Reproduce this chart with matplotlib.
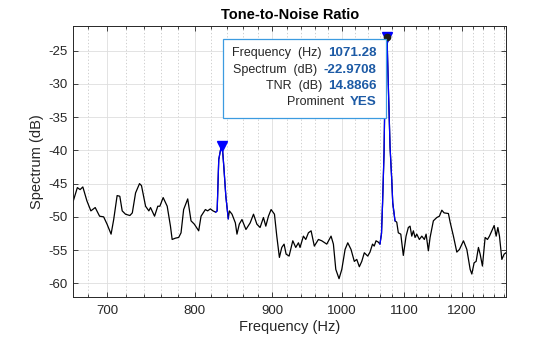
import numpy as np
import matplotlib
matplotlib.use('Agg')
import matplotlib.pyplot as plt
from matplotlib.ticker import FixedLocator, FuncFormatter, NullFormatter
from matplotlib.patches import Rectangle

plt.rcParams['font.family'] = ['Liberation Sans', 'DejaVu Sans']
plt.rcParams['axes.unicode_minus'] = False

# spectrum (Hz, dB)
freq_hz = [665.0, 669.1, 671.9, 674.7, 678.9, 683.0, 687.5, 689.3, 692.1, 696.4,
           700.0, 704.3, 707.1, 710.8, 713.7, 716.3, 719.9, 724.7, 727.4, 731.0,
           735.4, 737.6, 742.2, 745.9, 747.8, 752.4, 756.1, 758.5, 762.3, 767.0,
           770.8, 772.8, 776.7, 780.5, 783.3, 786.4, 791.3, 795.3, 799.3, 804.6,
           807.5, 812.8, 815.6, 819.0, 822.3, 825.7,
           827.5, 829.5, 831.5, 833.0, 834.5, 835.9, 838.5, 841.6,
           843.0, 846.4, 850.7, 852.8, 855.8, 859.3, 864.5, 870.1, 874.5, 879.0,
           883.3, 887.8, 891.0, 894.6, 898.2, 902.8, 906.0, 909.6, 912.9, 916.1,
           918.9, 923.1, 928.3, 932.5, 936.3, 938.6, 943.4, 946.8, 950.6, 954.5,
           959.2, 965.2, 970.1, 977.5, 983.9, 987.4, 991.0, 995.9, 1000.1, 1005.1,
           1009.2, 1014.2, 1019.3, 1023.1, 1027.1, 1030.9, 1034.9, 1040.3, 1043.9, 1047.9,
           1050.6, 1053.5, 1057.1, 1059.8,
           1062.3, 1064.0, 1066.4, 1068.0, 1071.28, 1073.4, 1076.2, 1079.0, 1080.6, 1082.7,
           1084.3, 1087.2, 1089.8, 1093.9, 1098.1, 1102.7, 1106.5, 1109.4, 1112.3, 1115.0,
           1117.9, 1120.8, 1125.2, 1129.4, 1133.8, 1136.8, 1140.7, 1143.7, 1149.4, 1155.4,
           1160.0, 1164.3, 1168.3, 1176.0, 1179.1, 1185.0, 1191.1, 1195.9, 1203.2, 1209.4,
           1215.5, 1218.6, 1222.9, 1226.6, 1230.9, 1234.1, 1238.4, 1243.5, 1247.9, 1251.7,
           1256.3, 1260.7, 1264.5, 1267.8, 1270.9, 1275.5, 1280.0, 1283.6]
spec_db = [-47.6, -45.6, -45.9, -45.5, -47.6, -49.1, -48.6, -49.1, -49.9, -50.0,
           -51.1, -52.6, -50.4, -46.8, -46.9, -49.1, -49.6, -49.8, -49.4, -46.4,
           -45.0, -45.3, -48.4, -49.1, -48.6, -49.9, -48.4, -48.4, -47.1, -48.4,
           -51.4, -53.4, -53.2, -53.1, -52.4, -48.9, -47.3, -50.6, -51.1, -52.1,
           -49.9, -48.9, -49.1, -48.8, -49.1, -49.3,
           -49.1, -41.4, -40.1, -39.3, -40.2, -42.4, -46.9, -50.3,
           -49.1, -49.6, -50.9, -52.6, -51.1, -50.4, -51.9, -50.9, -49.6, -51.1,
           -51.6, -50.1, -51.4, -49.9, -48.9, -49.6, -52.9, -56.1, -54.6, -54.1,
           -55.6, -55.9, -53.6, -54.6, -53.9, -54.6, -52.9, -53.4, -52.4, -52.1,
           -54.4, -53.4, -53.6, -54.1, -52.9, -54.1, -57.9, -59.3, -57.9, -54.9,
           -53.9, -54.9, -56.7, -56.4, -57.5, -56.7, -55.4, -55.9, -55.3, -54.1,
           -54.4, -53.6, -53.8, -54.1,
           -52.5, -48.0, -40.4, -30.4, -22.9708, -30.4, -39.5, -44.5, -47.9, -49.4,
           -50.6, -50.8, -52.4, -52.6, -55.8, -52.9, -51.6, -51.4, -52.9, -52.1,
           -53.1, -52.6, -53.4, -52.9, -53.4, -52.6, -55.1, -53.1, -50.6, -50.1,
           -49.9, -49.0, -49.4, -49.5, -50.8, -52.9, -55.3, -54.9, -53.6, -54.9,
           -57.9, -58.6, -56.9, -56.7, -54.6, -55.6, -57.4, -53.1, -53.4, -52.9,
           -52.1, -51.3, -52.9, -51.6, -52.9, -56.4, -55.6, -55.4]

tone_bands = [(825.7, 841.6), (1059.8, 1084.3)]
peak_freq = [833.0, 1071.28]
peak_db = [-39.3, -22.9708]

tip_labels = ['Frequency  (Hz)', 'Spectrum  (dB)', 'TNR  (dB)', 'Prominent']
tip_values = ['1071.28', '-22.9708', '14.8866', 'YES']

xticks = [700, 800, 900, 1000, 1100, 1200]
yticks = [-60, -55, -50, -45, -40, -35, -30, -25]

f = np.array(freq_hz)
s = np.array(spec_db)

fig = plt.figure(figsize=(5.6, 3.37), dpi=100)
ax = fig.add_axes([0.1309, 0.1178, 0.7727, 0.8059])

ax.plot(f, s, color='black', lw=0.9)
for lo, hi in tone_bands:
    m = (f >= lo) & (f <= hi)
    ax.plot(f[m], s[m], color='blue', lw=0.9)
ax.plot(peak_freq, peak_db, 'v', color='blue', ms=7, clip_on=False)
ax.plot(peak_freq[1], peak_db[1], 'o', color='#1a1a1a', ms=4.5, clip_on=False, zorder=5)

ax.set_xscale('log')
ax.set_xlim(f[0], f[-1])
ax.set_ylim(-62.1, -21.25)
ax.xaxis.set_major_locator(FixedLocator(xticks))
ax.xaxis.set_major_formatter(FuncFormatter(lambda v, p: '%d' % v))
ax.xaxis.set_minor_locator(FixedLocator([v for v in range(680, 1300, 20) if v not in xticks]))
ax.xaxis.set_minor_formatter(NullFormatter())
ax.set_yticks(yticks)

ax.grid(True, which='major', color='#dedede', lw=0.6, ls='-')
ax.grid(True, which='minor', axis='x', color='#c6c6c6', lw=0.6, ls=(0, (1.5, 2.5)))
ax.set_axisbelow(True)

ax.tick_params(which='both', direction='in', top=True, right=True, colors='#262626',
               labelsize=9.5, width=0.6)
ax.tick_params(which='major', length=3.5)
ax.tick_params(which='minor', length=2)
ax.tick_params(axis='x', pad=5.5)
ax.tick_params(axis='y', pad=4)
for sp in ax.spines.values():
    sp.set_color('#262626')
    sp.set_linewidth(0.7)

ax.set_title('Tone-to-Noise Ratio', fontsize=10.5, fontweight='bold', color='black', pad=5)
ax.set_xlabel('Frequency (Hz)', fontsize=10.5, color='#262626', labelpad=2)
ax.set_ylabel('Spectrum (dB)', fontsize=10.5, color='#262626', labelpad=3)

# data tip box
ax.add_patch(Rectangle((0.3453, 0.6613), 0.3767, 0.2897, transform=ax.transAxes,
                       facecolor='white', edgecolor='#3c9be0', lw=0.9, zorder=6))
row_y = [0.8984, 0.8384, 0.7783, 0.7180]
for lab, val, yy in zip(tip_labels, tip_values, row_y):
    vt = ax.text(0.7012, yy, val, transform=ax.transAxes, ha='right', va='center',
                 fontsize=9.6, fontweight='bold', color='#1c5aa5', zorder=7)
    ax.annotate(lab, xy=(0, 0.5), xycoords=vt, xytext=(-4.5, 0), textcoords='offset points',
                ha='right', va='center', fontsize=9, color='#262626', zorder=7)

fig.savefig('out.png', dpi=100)
